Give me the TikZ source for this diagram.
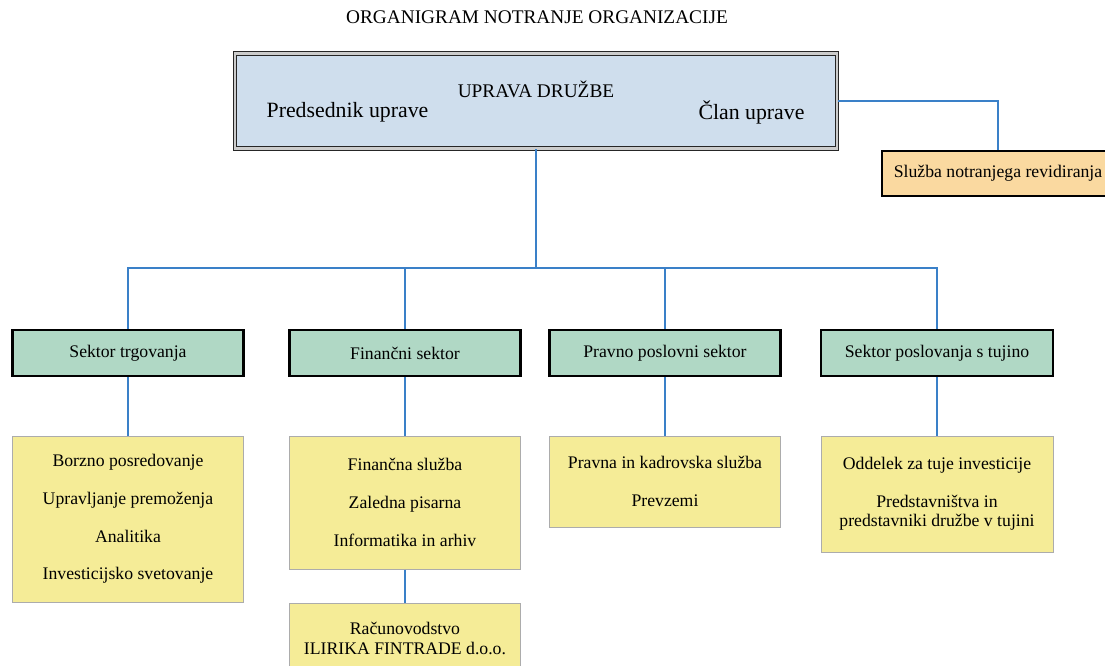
\documentclass[tikz,border=0pt]{standalone}
\usepackage{fontspec}
\setmainfont{Liberation Serif}
\definecolor{topfill}{HTML}{CFDEED}
\definecolor{secfill}{HTML}{B0D8C5}
\definecolor{unitfill}{HTML}{F5EC97}
\definecolor{revfill}{HTML}{FAD9A0}
\definecolor{linkblue}{HTML}{3A80C8}
\begin{document}
\begin{tikzpicture}[x=1pt,y=-1pt,
  topbox/.style={draw=black!85, double=gray!40, double distance=2.2pt, line width=1.1pt, fill=topfill, minimum width=602pt, minimum height=95pt, inner sep=0pt},
  sector/.style={draw=black, line width=2.6pt, fill=secfill, minimum width=231pt, minimum height=46pt, inner sep=0pt, font=\fontsize{17.7}{21}\selectfont},
  revbox/.style={draw=black, line width=2.6pt, fill=revfill, minimum width=232pt, minimum height=45pt, inner sep=0pt, font=\fontsize{17.7}{21}\selectfont},
  unit/.style={draw=gray!65, line width=1pt, fill=unitfill, minimum width=231pt, align=center, inner sep=0pt, font=\fontsize{17.7}{21}\selectfont},
  conn/.style={draw=linkblue, line width=1.5pt},
  toptext/.style={inner sep=0pt, font=\fontsize{21.8}{24}\selectfont},
  capstext/.style={inner sep=0pt, font=\fontsize{19.3}{22}\selectfont}
]
\useasboundingbox (0,0) rectangle (1105,666);
\clip (0,0) rectangle (1105,666);
\fill[white] (0,0) rectangle (1105,666);

\node[capstext] (title) at (537,17) {ORGANIGRAM NOTRANJE ORGANIZACIJE};

\node[topbox] (top) at (536,101) {};
\node[capstext] (uprava) at (536,89) {UPRAVA DRUŽBE};
\node[toptext] (pred) at (347.5,112) {Predsednik uprave};
\node[toptext] (clan) at (751.5,112) {Član uprave};

\node[revbox] (rev) at (998,173.5) {Služba notranjega revidiranja};

\node[sector] (s1) at (128,353) {Sektor trgovanja};
\node[sector] (s2) at (405,353) {Finančni sektor};
\node[sector] (s3) at (665,353) {Pravno poslovni sektor};
\node[sector, minimum width=232pt] (s4) at (937,353) {Sektor poslovanja s tujino};

\node[unit, minimum height=166pt] (u1) at (128,519) {Borzno posredovanje\\[16.7pt]Upravljanje premoženja\\[16.7pt]Analitika\\[16.7pt]Investicijsko svetovanje};
\node[unit, minimum height=133pt] (u2) at (405,502.5) {Finančna služba\\[16.7pt]Zaledna pisarna\\[16.7pt]Informatika in arhiv};
\node[unit, minimum height=70pt] (u2b) at (405,638) {Računovodstvo\\[-1pt]ILIRIKA FINTRADE d.o.o.};
\node[unit, minimum height=91pt] (u3) at (665,481.5) {Pravna in kadrovska služba\\[16.7pt]Prevzemi};
\node[unit, minimum height=116pt, minimum width=232pt] (u4) at (937,494) {Oddelek za tuje investicije\\[17pt]Predstavništva in\\[-2pt]predstavniki družbe v tujini};

\coordinate (bus) at (536,268);
\draw[conn] (top.east) -| (rev.north);
\draw[conn] (top.south) -- (bus);
\draw[conn] (s1.north) |- (bus) -| (s4.north);
\draw[conn] (s2.north) -- (s2.north |- bus);
\draw[conn] (s3.north) -- (s3.north |- bus);
\draw[conn] (s1.south) -- (u1.north);
\draw[conn] (s2.south) -- (u2.north);
\draw[conn] (s3.south) -- (u3.north);
\draw[conn] (s4.south) -- (u4.north);
\draw[conn] (u2.south) -- (u2b.north);
\end{tikzpicture}
\end{document}
